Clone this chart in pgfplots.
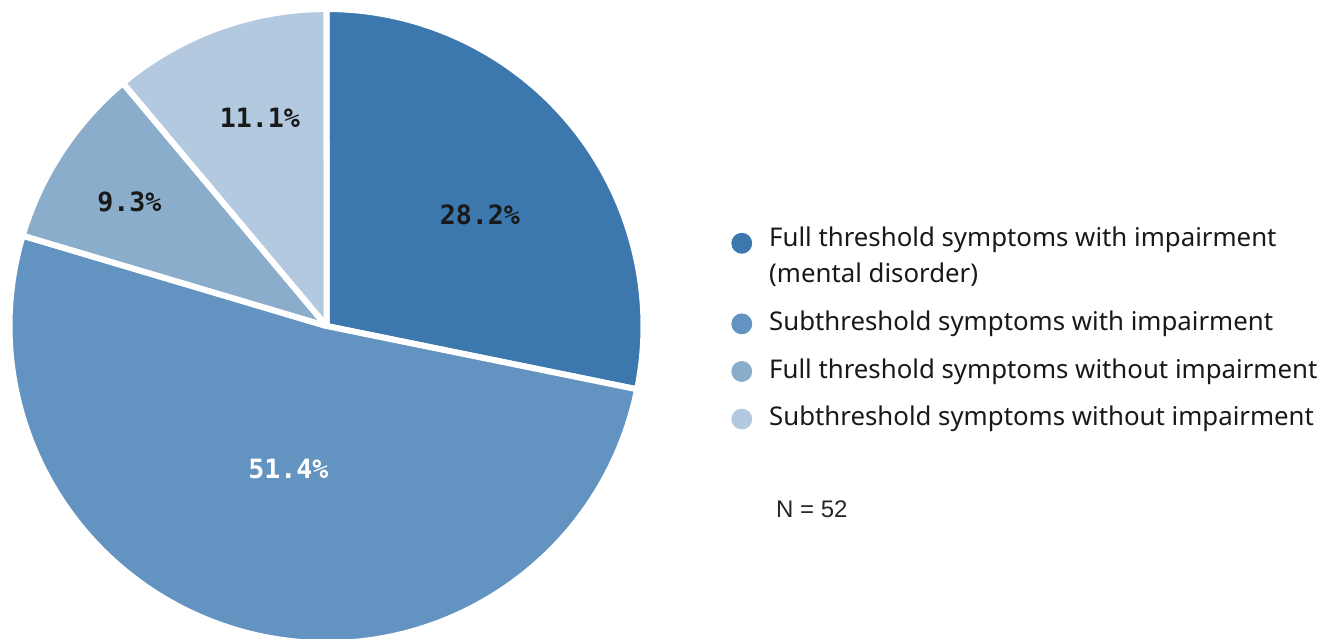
\documentclass[border=0pt]{standalone}
\usepackage{fontspec}
\setmainfont{Noto Sans}
\newfontfamily\pctfont{DejaVu Sans Mono}
\newfontfamily\nfont{Liberation Sans}
\usepackage{pgfplots}
\pgfplotsset{compat=1.18}
\definecolor{c1}{HTML}{3C78AE}
\definecolor{c2}{HTML}{6393C0}
\definecolor{c3}{HTML}{8BADCC}
\definecolor{c4}{HTML}{B2C9DF}
% slice: #1 cumulative share before, #2 share, #3 colour
\newcommand{\slice}[3]{%
  \fill[#3, draw=white, line width=3pt, line join=round]
    (axis cs:0,0) -- (axis cs:{cos(90-3.6*(#1))},{sin(90-3.6*(#1))})
    arc[start angle={90-3.6*(#1)}, delta angle={-3.6*(#2)}, radius=158.5pt] -- cycle;}
\begin{document}
\begin{tikzpicture}
\begin{axis}[
  hide axis, scale only axis, clip=false,
  x=158.5pt, y=158.5pt, xmin=-1, xmax=1, ymin=-1, ymax=1,
  anchor=origin, at={(-0.75pt,0)},
  legend style={at={(axis cs:1.257,0.338)}, anchor=north west, draw=none, fill=none,
    font=\fontsize{12.9}{16.5}\selectfont, row sep=8.5pt, column sep=6.5pt,
    cells={anchor=base west, align=left}, text=black!90},
]
\slice{0}{28.2}{c1}
\slice{28.2}{51.4}{c2}
\slice{28.2+51.4}{9.3}{c3}
\slice{28.2+51.4+9.3}{11.1}{c4}
\addlegendimage{legend image code/.code={\fill[c1] (0pt,{0.33em+16.5pt}) circle (5pt);}}
\addlegendentry{Full threshold symptoms with impairment\\[1.5pt](mental disorder)\rule[-5.6pt]{0pt}{0pt}}
\addlegendimage{legend image code/.code={\fill[c2] (0pt,0.33em) circle (5pt);}}
\addlegendentry{Subthreshold symptoms with impairment}
\addlegendimage{legend image code/.code={\fill[c3] (0pt,0.33em) circle (5pt);}}
\addlegendentry{Full threshold symptoms without impairment}
\addlegendimage{legend image code/.code={\fill[c4] (0pt,0.33em) circle (5pt);}}
\addlegendentry{Subthreshold symptoms without impairment}
\node[font=\pctfont\bfseries\fontsize{13.3}{15}\selectfont, text=black!90] at (axis cs:0.484,0.351) {28.2\%};
\node[font=\pctfont\bfseries\fontsize{13.3}{15}\selectfont, white] at (axis cs:-0.120,-0.451) {51.4\%};
\node[font=\pctfont\bfseries\fontsize{13.3}{15}\selectfont, text=black!90] at (axis cs:-0.622,0.391) {9.3\%};
\node[font=\pctfont\bfseries\fontsize{13.3}{15}\selectfont, text=black!90] at (axis cs:-0.210,0.656) {11.1\%};
\node[font=\nfont\fontsize{12}{14}\selectfont, text=black!85] at (axis cs:1.531,-0.577) {N = 52};
\end{axis}
\pgfresetboundingbox
\useasboundingbox (-164pt,-156pt) rectangle (496pt,163pt);
\end{tikzpicture}
\end{document}
